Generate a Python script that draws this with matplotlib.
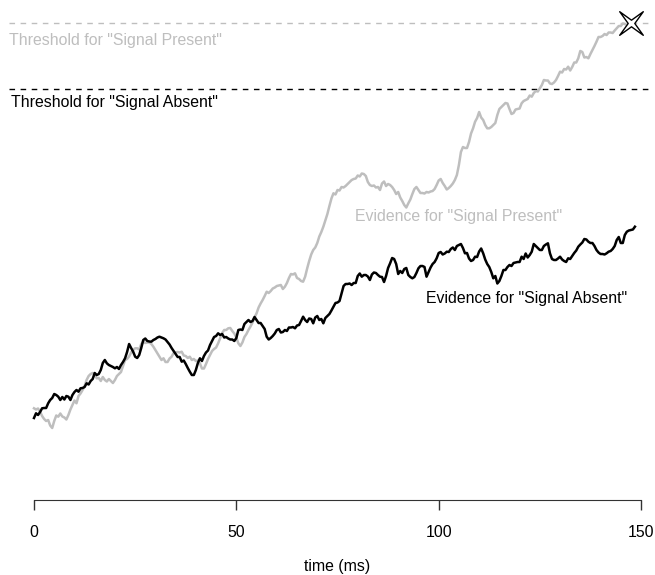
import numpy as np
import matplotlib.pyplot as plt
from matplotlib.path import Path

plt.rcParams['font.family'] = ['Liberation Sans', 'DejaVu Sans']

# accumulated evidence, sampled every 0.5 ms from t = 0
absent = [
    0.0, 0.47, 0.3, 0.6, 0.97, 1.0, 1.0, 1.47, 1.8, 2.0,
    2.4, 2.3, 2.13, 1.8, 2.1, 1.85, 2.2, 2.13, 1.8, 2.3,
    2.6, 2.8, 2.63, 2.97, 3.0, 3.1, 3.47, 3.35, 3.7, 3.9,
    4.5, 4.3, 4.4, 4.8, 5.5, 5.8, 5.47, 5.3, 5.2, 5.1,
    4.97, 5.1, 4.9, 5.3, 5.6, 5.97, 6.6, 7.4, 7.0, 6.63,
    6.13, 6.0, 6.3, 7.0, 7.8, 7.95, 7.7, 7.65, 7.63, 7.8,
    7.9, 8.05, 8.13, 8.05, 7.97, 7.85, 7.6, 7.35, 7.0, 6.7,
    6.4, 6.1, 6.1, 5.63, 5.75, 5.4, 5.0, 4.63, 4.3, 4.3,
    4.8, 5.5, 5.97, 5.7, 6.2, 6.55, 6.75, 7.3, 7.7, 8.1,
    8.2, 8.47, 8.3, 8.4, 8.05, 8.1, 7.95, 7.85, 7.85, 7.7,
    8.0, 8.8, 8.85, 8.8, 9.4, 9.6, 9.8, 9.6, 9.7, 10.1,
    9.8, 9.5, 9.5, 9.2, 8.9, 8.13, 7.85, 8.0, 8.2, 8.45,
    8.8, 8.9, 8.55, 8.6, 8.8, 8.7, 9.05, 9.05, 9.1, 8.97,
    9.25, 9.3, 9.7, 10.13, 9.8, 9.6, 9.95, 9.9, 9.47, 10.05,
    10.2, 9.8, 9.9, 9.47, 10.0, 10.2, 10.4, 10.75, 11.13, 11.5,
    11.55, 11.7, 12.47, 13.2, 13.4, 13.4, 13.45, 13.3, 13.5, 13.5,
    14.2, 14.45, 14.13, 14.3, 14.3, 14.15, 13.8, 14.35, 14.55, 14.5,
    14.3, 14.13, 14.1, 13.6, 14.2, 15.0, 15.47, 16.0, 15.9, 15.4,
    14.4, 14.7, 14.5, 14.9, 15.0, 14.3, 14.1, 13.97, 14.1, 14.5,
    14.97, 15.2, 15.2, 15.1, 14.13, 14.6, 15.05, 15.4, 15.6, 15.97,
    16.5, 16.6, 16.35, 16.45, 16.63, 16.6, 16.9, 17.05, 16.8, 17.2,
    17.3, 17.4, 17.0, 16.47, 16.5, 15.95, 15.7, 15.8, 16.13, 16.1,
    16.65, 16.95, 16.47, 15.85, 15.4, 15.1, 14.6, 13.97, 14.2, 13.45,
    13.7, 14.2, 14.8, 14.8, 15.1, 15.3, 15.2, 15.5, 15.55, 15.6,
    15.6, 16.13, 15.9, 16.45, 16.05, 16.3, 16.63, 17.4, 17.2, 17.0,
    16.8, 16.8, 17.2, 17.35, 17.47, 16.47, 15.9, 15.8, 15.8, 15.95,
    16.13, 15.85, 15.7, 15.6, 15.97, 15.9, 16.2, 16.5, 16.75, 17.13,
    17.35, 17.55, 17.9, 17.85, 17.63, 17.5, 17.5, 17.2, 16.8, 16.55,
    16.4, 16.4, 16.35, 16.47, 16.63, 16.7, 16.9, 17.2, 17.8, 18.1,
    17.5, 17.5, 18.3, 18.63, 18.75, 18.8, 18.85, 19.13]
present = [
    0.97, 0.85, 0.95, 0.63, 0.2, -0.1, -0.3, -0.2, -0.75, -1.0,
    -0.3, 0.25, 0.13, 0.45, 0.15, 0.05, -0.15, 0.3, 0.85, 1.3,
    1.75, 1.47, 2.2, 2.45, 2.8, 3.2, 3.8, 4.2, 4.4, 4.5,
    4.35, 3.97, 4.0, 3.7, 4.1, 3.8, 3.65, 3.9, 3.7, 3.5,
    3.8, 4.2, 4.4, 4.6, 5.2, 5.8, 5.9, 6.15, 6.55, 6.8,
    6.97, 6.97, 6.85, 7.4, 7.63, 7.5, 7.55, 7.55, 7.4, 7.13,
    6.8, 6.45, 6.15, 5.8, 5.97, 5.6, 5.6, 5.95, 6.13, 6.5,
    6.55, 6.6, 6.55, 6.63, 6.25, 6.2, 6.0, 6.13, 5.8, 5.9,
    5.7, 5.75, 5.47, 4.95, 4.95, 5.4, 5.9, 6.3, 6.7, 6.9,
    7.05, 7.47, 7.97, 8.5, 8.8, 8.8, 8.97, 9.0, 8.7, 8.45,
    8.05, 7.47, 7.2, 7.55, 8.1, 8.4, 8.8, 9.15, 9.55, 10.05,
    10.47, 11.05, 11.45, 11.8, 12.2, 12.63, 12.5, 12.7, 12.95, 13.05,
    13.2, 13.25, 13.3, 12.9, 13.13, 13.5, 14.0, 14.4, 14.35, 14.47,
    14.0, 13.9, 13.7, 13.63, 14.13, 14.95, 15.7, 16.35, 16.8, 17.05,
    17.5, 18.15, 18.6, 19.13, 19.75, 20.4, 21.2, 21.95, 22.47, 22.35,
    22.8, 22.75, 23.1, 23.05, 23.2, 23.4, 23.6, 23.8, 23.9, 23.95,
    24.25, 24.15, 24.45, 24.4, 24.2, 23.6, 23.3, 23.2, 23.25, 23.05,
    23.1, 22.8, 23.45, 23.65, 23.2, 23.4, 23.3, 23.1, 22.8, 22.4,
    22.6, 22.05, 21.7, 21.3, 21.05, 21.47, 21.85, 22.4, 22.9, 23.1,
    22.8, 22.5, 22.5, 22.45, 22.6, 22.55, 22.65, 22.7, 22.9, 23.3,
    23.75, 23.9, 23.5, 23.2, 22.85, 23.0, 23.2, 23.45, 23.8, 24.3,
    25.3, 26.6, 27.1, 27.0, 27.0, 27.6, 28.45, 28.97, 29.63, 30.0,
    30.6, 30.05, 29.8, 29.3, 28.97, 28.97, 29.1, 29.3, 29.5, 30.3,
    30.9, 31.1, 31.3, 31.5, 31.45, 30.9, 30.4, 30.5, 30.85, 30.9,
    30.95, 31.47, 31.7, 31.8, 31.9, 32.25, 32.13, 32.5, 32.7, 32.65,
    32.97, 33.3, 33.8, 33.75, 33.75, 33.45, 33.4, 33.55, 33.8, 34.2,
    34.63, 34.55, 34.9, 34.85, 35.13, 34.75, 35.1, 35.55, 35.55, 35.97,
    36.7, 36.6, 36.05, 36.1, 35.97, 36.4, 36.8, 37.2, 37.63, 38.1,
    38.1, 38.2, 38.4, 38.3, 38.55, 38.55, 38.5, 38.75, 38.97, 39.2,
    39.2, 39.45, 39.4, 39.3, 39.45, 39.47]

thresh_present = 39.47
thresh_absent = 32.95
xticks = [0, 50, 100, 150]

t_absent = np.arange(len(absent)) * 0.5
t_present = np.arange(len(present)) * 0.5

grey = '#bebebe'

fig = plt.figure(figsize=(6.55, 5.75), dpi=100)
ax = fig.add_axes([34 / 655, 75 / 575, 607 / 655, 500 / 575])
ax.set_xlim(0, 150)
ax.set_ylim(-8.2, 41.8)

# decision thresholds
ax.plot([-6.2, 151.7], [thresh_present] * 2, color=grey, lw=1,
        ls=(0, (4, 4)), clip_on=False)
ax.plot([-6.2, 151.7], [thresh_absent] * 2, color='black', lw=1,
        ls=(0, (4, 4)), clip_on=False)

ax.plot(t_present, present, color=grey, lw=1.8, clip_on=False)
ax.plot(t_absent, absent, color='black', lw=1.8, clip_on=False)

# four-pointed star where "present" hits its threshold
r = 0.28
star = Path([(1, 1), (0, r), (-1, 1), (-r, 0), (-1, -1), (0, -r),
             (1, -1), (r, 0), (1, 1)],
            [Path.MOVETO] + [Path.LINETO] * 7 + [Path.CLOSEPOLY])
ax.plot(t_present[-1], thresh_present, marker=star, ms=17, mfc='white',
        mec='black', mew=1.0, clip_on=False)

fs = 11.4
ax.text(-6.2, 37.7, 'Threshold for "Signal Present"', color=grey,
        fontsize=fs, ha='left', va='center')
ax.text(-5.8, 31.6, 'Threshold for "Signal Absent"', color='black',
        fontsize=fs, ha='left', va='center')
ax.text(105.0, 20.1, 'Evidence for "Signal Present"', color=grey,
        fontsize=fs, ha='center', va='center')
ax.text(121.6, 12.0, 'Evidence for "Signal Absent"', color='black',
        fontsize=fs, ha='center', va='center')

for s in ['top', 'right', 'left']:
    ax.spines[s].set_visible(False)
ax.spines['bottom'].set_bounds(0, 150)
ax.spines['bottom'].set_color('#333333')
ax.set_yticks([])
ax.set_xticks(xticks)
ax.tick_params(axis='x', length=7.2, width=1, color='#333333',
               labelsize=fs, pad=10.5)
fig.text(337 / 655, 1 - 566 / 575, 'time (ms)', fontsize=fs,
         ha='center', va='center')

fig.savefig('out.png', dpi=100)
